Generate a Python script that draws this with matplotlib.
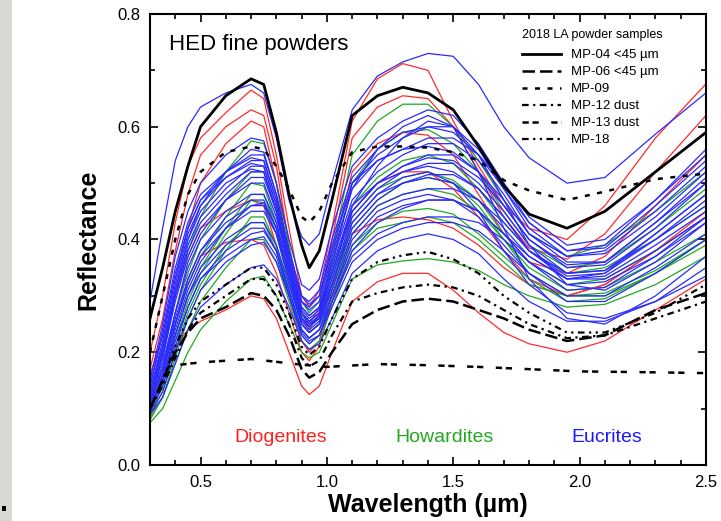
import matplotlib.pyplot as plt
from matplotlib.patches import Rectangle
from matplotlib.ticker import MultipleLocator

plt.rcParams['font.family'] = ['Liberation Sans', 'DejaVu Sans']

# wavelength grid (um) shared by the spectra
wavelength = [0.30, 0.35, 0.40, 0.45, 0.50, 0.60, 0.70, 0.75, 0.80, 0.85, 0.90, 0.93, 0.97,
              1.02, 1.10, 1.20, 1.30, 1.40, 1.50, 1.60, 1.70, 1.80, 1.95, 2.10, 2.30, 2.50]

# diogenites (red)
diogenites = [
    [0.20, 0.30, 0.43, 0.53, 0.58, 0.625, 0.665, 0.65, 0.55, 0.42, 0.30, 0.28, 0.31, 0.42, 0.61, 0.685, 0.712, 0.70, 0.61, 0.53, 0.46, 0.42, 0.40, 0.46, 0.58, 0.676],
    [0.17, 0.26, 0.38, 0.48, 0.55, 0.60, 0.63, 0.62, 0.53, 0.39, 0.27, 0.25, 0.28, 0.40, 0.58, 0.635, 0.655, 0.65, 0.60, 0.52, 0.44, 0.385, 0.365, 0.41, 0.52, 0.62],
    [0.16, 0.23, 0.33, 0.42, 0.50, 0.57, 0.61, 0.60, 0.50, 0.37, 0.26, 0.24, 0.27, 0.37, 0.52, 0.57, 0.59, 0.585, 0.55, 0.48, 0.41, 0.36, 0.34, 0.37, 0.46, 0.55],
    [0.12, 0.17, 0.25, 0.32, 0.37, 0.395, 0.40, 0.39, 0.34, 0.27, 0.20, 0.185, 0.21, 0.29, 0.41, 0.435, 0.44, 0.435, 0.42, 0.39, 0.35, 0.32, 0.30, 0.32, 0.38, 0.44],
    [0.12, 0.16, 0.21, 0.24, 0.255, 0.275, 0.30, 0.295, 0.26, 0.20, 0.14, 0.125, 0.14, 0.20, 0.29, 0.325, 0.34, 0.34, 0.31, 0.27, 0.235, 0.215, 0.20, 0.22, 0.275, 0.33],
    [0.13, 0.20, 0.30, 0.37, 0.42, 0.45, 0.47, 0.46, 0.39, 0.30, 0.22, 0.20, 0.22, 0.31, 0.45, 0.50, 0.52, 0.52, 0.49, 0.44, 0.38, 0.33, 0.30, 0.32, 0.38, 0.45],
]

# howardites (green)
howardites = [
    [0.12, 0.20, 0.30, 0.38, 0.44, 0.52, 0.575, 0.57, 0.50, 0.39, 0.29, 0.27, 0.29, 0.38, 0.55, 0.61, 0.64, 0.64, 0.60, 0.54, 0.47, 0.41, 0.37, 0.39, 0.45, 0.52],
    [0.10, 0.16, 0.25, 0.32, 0.37, 0.44, 0.50, 0.495, 0.43, 0.34, 0.26, 0.245, 0.26, 0.33, 0.46, 0.51, 0.54, 0.55, 0.535, 0.49, 0.43, 0.38, 0.34, 0.35, 0.40, 0.46],
    [0.09, 0.14, 0.22, 0.29, 0.34, 0.41, 0.47, 0.465, 0.41, 0.32, 0.25, 0.235, 0.25, 0.32, 0.44, 0.49, 0.51, 0.52, 0.505, 0.47, 0.41, 0.36, 0.32, 0.33, 0.38, 0.44],
    [0.08, 0.12, 0.19, 0.26, 0.31, 0.38, 0.44, 0.44, 0.39, 0.31, 0.24, 0.225, 0.24, 0.30, 0.41, 0.46, 0.48, 0.49, 0.48, 0.45, 0.40, 0.35, 0.31, 0.315, 0.36, 0.41],
    [0.10, 0.15, 0.23, 0.30, 0.35, 0.42, 0.48, 0.48, 0.42, 0.33, 0.25, 0.235, 0.25, 0.31, 0.42, 0.47, 0.50, 0.51, 0.50, 0.46, 0.40, 0.34, 0.30, 0.30, 0.34, 0.39],
    [0.075, 0.10, 0.15, 0.20, 0.24, 0.29, 0.33, 0.335, 0.30, 0.25, 0.20, 0.19, 0.20, 0.25, 0.33, 0.355, 0.362, 0.366, 0.36, 0.345, 0.32, 0.30, 0.28, 0.285, 0.32, 0.37],
    [0.09, 0.13, 0.20, 0.27, 0.32, 0.39, 0.43, 0.43, 0.38, 0.30, 0.23, 0.215, 0.23, 0.29, 0.39, 0.43, 0.45, 0.455, 0.445, 0.41, 0.37, 0.33, 0.29, 0.295, 0.34, 0.40],
    [0.11, 0.17, 0.27, 0.34, 0.40, 0.47, 0.52, 0.52, 0.45, 0.35, 0.265, 0.25, 0.265, 0.35, 0.50, 0.56, 0.59, 0.595, 0.57, 0.52, 0.45, 0.39, 0.35, 0.36, 0.42, 0.49],
    [0.085, 0.12, 0.18, 0.24, 0.29, 0.35, 0.40, 0.40, 0.36, 0.29, 0.22, 0.205, 0.22, 0.28, 0.38, 0.42, 0.43, 0.44, 0.43, 0.40, 0.36, 0.32, 0.30, 0.305, 0.345, 0.40],
]

# eucrites (blue)
eucrites = [
    [0.29, 0.42, 0.54, 0.60, 0.635, 0.66, 0.675, 0.66, 0.58, 0.47, 0.405, 0.39, 0.41, 0.50, 0.63, 0.69, 0.715, 0.73, 0.725, 0.675, 0.60, 0.545, 0.50, 0.51, 0.587, 0.66],
    [0.15, 0.25, 0.37, 0.45, 0.50, 0.55, 0.58, 0.575, 0.50, 0.40, 0.32, 0.31, 0.33, 0.42, 0.53, 0.58, 0.61, 0.63, 0.62, 0.57, 0.50, 0.43, 0.38, 0.39, 0.47, 0.55],
    [0.14, 0.24, 0.35, 0.43, 0.48, 0.52, 0.545, 0.54, 0.47, 0.37, 0.29, 0.28, 0.30, 0.38, 0.50, 0.55, 0.58, 0.60, 0.60, 0.56, 0.49, 0.42, 0.37, 0.38, 0.45, 0.53],
    [0.13, 0.22, 0.33, 0.42, 0.47, 0.51, 0.535, 0.53, 0.46, 0.36, 0.28, 0.265, 0.28, 0.36, 0.47, 0.52, 0.55, 0.57, 0.57, 0.54, 0.48, 0.41, 0.36, 0.36, 0.43, 0.51],
    [0.13, 0.21, 0.31, 0.40, 0.45, 0.50, 0.525, 0.52, 0.45, 0.35, 0.27, 0.255, 0.27, 0.34, 0.45, 0.50, 0.53, 0.55, 0.55, 0.52, 0.46, 0.40, 0.35, 0.355, 0.42, 0.50],
    [0.12, 0.20, 0.30, 0.38, 0.43, 0.48, 0.52, 0.52, 0.45, 0.35, 0.27, 0.255, 0.27, 0.36, 0.49, 0.56, 0.60, 0.62, 0.60, 0.52, 0.42, 0.33, 0.26, 0.25, 0.30, 0.37],
    [0.12, 0.19, 0.29, 0.37, 0.42, 0.47, 0.50, 0.50, 0.44, 0.35, 0.27, 0.25, 0.265, 0.33, 0.44, 0.49, 0.52, 0.535, 0.535, 0.50, 0.45, 0.39, 0.34, 0.345, 0.41, 0.48],
    [0.11, 0.18, 0.27, 0.35, 0.40, 0.45, 0.48, 0.48, 0.43, 0.34, 0.26, 0.245, 0.26, 0.32, 0.43, 0.48, 0.50, 0.515, 0.515, 0.49, 0.44, 0.38, 0.335, 0.34, 0.40, 0.47],
    [0.11, 0.17, 0.26, 0.33, 0.38, 0.43, 0.46, 0.46, 0.41, 0.33, 0.25, 0.235, 0.25, 0.32, 0.43, 0.48, 0.51, 0.52, 0.50, 0.45, 0.38, 0.32, 0.27, 0.26, 0.29, 0.335],
    [0.10, 0.16, 0.25, 0.32, 0.37, 0.42, 0.45, 0.45, 0.41, 0.33, 0.255, 0.24, 0.255, 0.31, 0.41, 0.46, 0.48, 0.49, 0.49, 0.47, 0.43, 0.38, 0.34, 0.345, 0.40, 0.46],
    [0.10, 0.15, 0.23, 0.30, 0.35, 0.40, 0.43, 0.43, 0.39, 0.32, 0.25, 0.235, 0.25, 0.30, 0.39, 0.44, 0.46, 0.47, 0.47, 0.45, 0.41, 0.37, 0.33, 0.335, 0.39, 0.45],
    [0.095, 0.14, 0.21, 0.28, 0.33, 0.38, 0.41, 0.415, 0.38, 0.31, 0.24, 0.225, 0.24, 0.29, 0.37, 0.41, 0.43, 0.44, 0.44, 0.43, 0.40, 0.36, 0.32, 0.325, 0.37, 0.43],
    [0.09, 0.13, 0.20, 0.26, 0.31, 0.36, 0.39, 0.395, 0.36, 0.30, 0.235, 0.22, 0.23, 0.28, 0.36, 0.40, 0.42, 0.43, 0.43, 0.415, 0.38, 0.34, 0.30, 0.30, 0.35, 0.41],
    [0.09, 0.12, 0.18, 0.24, 0.28, 0.32, 0.35, 0.355, 0.33, 0.28, 0.22, 0.205, 0.215, 0.26, 0.34, 0.38, 0.40, 0.41, 0.40, 0.375, 0.33, 0.29, 0.255, 0.255, 0.29, 0.35],
    [0.12, 0.20, 0.31, 0.40, 0.46, 0.51, 0.54, 0.54, 0.47, 0.37, 0.29, 0.275, 0.29, 0.37, 0.49, 0.54, 0.56, 0.58, 0.58, 0.55, 0.50, 0.44, 0.39, 0.40, 0.47, 0.56],
    [0.11, 0.19, 0.30, 0.39, 0.44, 0.49, 0.53, 0.53, 0.46, 0.36, 0.28, 0.265, 0.28, 0.35, 0.46, 0.50, 0.52, 0.53, 0.52, 0.49, 0.44, 0.38, 0.33, 0.33, 0.38, 0.44],
    [0.105, 0.17, 0.27, 0.36, 0.41, 0.47, 0.51, 0.51, 0.45, 0.355, 0.275, 0.26, 0.275, 0.34, 0.45, 0.50, 0.53, 0.545, 0.54, 0.51, 0.46, 0.40, 0.355, 0.36, 0.43, 0.50],
    [0.10, 0.16, 0.25, 0.33, 0.38, 0.44, 0.47, 0.47, 0.42, 0.34, 0.26, 0.25, 0.26, 0.32, 0.42, 0.47, 0.50, 0.51, 0.50, 0.47, 0.42, 0.37, 0.33, 0.34, 0.41, 0.48],
    [0.10, 0.15, 0.24, 0.31, 0.36, 0.42, 0.46, 0.465, 0.42, 0.34, 0.26, 0.245, 0.265, 0.34, 0.46, 0.53, 0.58, 0.61, 0.60, 0.55, 0.47, 0.39, 0.32, 0.31, 0.36, 0.43],
    [0.14, 0.23, 0.34, 0.42, 0.47, 0.52, 0.56, 0.555, 0.48, 0.38, 0.30, 0.285, 0.30, 0.39, 0.50, 0.54, 0.56, 0.565, 0.555, 0.52, 0.47, 0.41, 0.37, 0.375, 0.44, 0.52],
    [0.095, 0.15, 0.23, 0.30, 0.34, 0.39, 0.42, 0.42, 0.38, 0.31, 0.24, 0.225, 0.24, 0.30, 0.40, 0.45, 0.47, 0.48, 0.47, 0.44, 0.39, 0.34, 0.29, 0.29, 0.34, 0.40],
    [0.13, 0.21, 0.32, 0.41, 0.46, 0.52, 0.55, 0.55, 0.48, 0.38, 0.30, 0.29, 0.31, 0.40, 0.51, 0.56, 0.59, 0.60, 0.59, 0.55, 0.49, 0.43, 0.38, 0.385, 0.46, 0.54],
    [0.10, 0.15, 0.22, 0.28, 0.33, 0.37, 0.40, 0.405, 0.37, 0.30, 0.23, 0.215, 0.23, 0.29, 0.38, 0.43, 0.455, 0.47, 0.47, 0.45, 0.41, 0.36, 0.31, 0.315, 0.37, 0.44],
]

# 2018 LA powder samples (black)
mp04 = [0.26, 0.35, 0.45, 0.53, 0.60, 0.655, 0.685, 0.675, 0.59, 0.48, 0.39, 0.35, 0.38, 0.47, 0.62, 0.655, 0.67, 0.66, 0.63, 0.565, 0.495, 0.445, 0.42, 0.45, 0.52, 0.59]
mp06 = [0.10, 0.15, 0.20, 0.235, 0.26, 0.28, 0.305, 0.30, 0.275, 0.23, 0.17, 0.155, 0.165, 0.20, 0.25, 0.275, 0.29, 0.295, 0.29, 0.275, 0.26, 0.24, 0.22, 0.23, 0.275, 0.305]
mp09 = [0.20, 0.30, 0.40, 0.48, 0.52, 0.555, 0.565, 0.56, 0.53, 0.49, 0.44, 0.43, 0.45, 0.50, 0.555, 0.565, 0.565, 0.563, 0.555, 0.54, 0.505, 0.487, 0.47, 0.485, 0.507, 0.517]
mp12 = [0.10, 0.14, 0.19, 0.24, 0.27, 0.30, 0.33, 0.33, 0.30, 0.25, 0.19, 0.175, 0.185, 0.23, 0.29, 0.305, 0.315, 0.32, 0.315, 0.30, 0.275, 0.25, 0.225, 0.23, 0.26, 0.29]
mp18 = [0.10, 0.15, 0.21, 0.26, 0.29, 0.32, 0.35, 0.35, 0.32, 0.27, 0.21, 0.195, 0.21, 0.26, 0.33, 0.36, 0.372, 0.378, 0.365, 0.34, 0.30, 0.27, 0.235, 0.235, 0.27, 0.32]
mp13_wavelength = [0.42, 0.50, 0.60, 0.70, 0.80, 0.90, 1.00, 1.20, 1.40, 1.60, 1.80, 2.00, 2.20, 2.50]
mp13 = [0.178, 0.182, 0.185, 0.188, 0.183, 0.178, 0.174, 0.179, 0.177, 0.174, 0.17, 0.166, 0.165, 0.163]

fig = plt.figure(figsize=(7.21, 5.21), dpi=100)
fig.patches.append(Rectangle((0, 0), 12 / 721, 1, transform=fig.transFigure,
                             facecolor='#d9d9d4', edgecolor='none', zorder=0))
fig.patches.append(Rectangle((2 / 721, 10 / 521), 4 / 721, 5 / 521, transform=fig.transFigure,
                             facecolor='black', edgecolor='none', zorder=1))
ax = fig.add_axes([150 / 721, 56 / 521, 556 / 721, 451 / 521])

# colored spectra first, the black samples on top
for s in diogenites:
    ax.plot(wavelength, s, color='#ff2a2a', lw=0.9, solid_joinstyle='round')
for s in howardites:
    ax.plot(wavelength, s, color='#22a822', lw=0.9, solid_joinstyle='round')
for s in eucrites:
    ax.plot(wavelength, s, color='#2a2aff', lw=0.9, solid_joinstyle='round')

ax.plot(wavelength, mp04, color='black', lw=2.0, solid_joinstyle='round', label='MP-04 <45 µm')
ax.plot(wavelength, mp06, color='black', lw=1.8, ls=(0, (5, 2)), label='MP-06 <45 µm')
ax.plot(wavelength, mp09, color='black', lw=1.8, ls=(0, (2, 3)), label='MP-09')
ax.plot(wavelength, mp12, color='black', lw=1.6, ls=(0, (3, 2, 1, 2)), label='MP-12 dust')
ax.plot(mp13_wavelength, mp13, color='black', lw=1.8, ls=(0, (2.5, 1.5, 2.5, 5)), label='MP-13 dust')
ax.plot(wavelength, mp18, color='black', lw=1.6, ls=(0, (3, 2, 1, 2, 1, 2)), label='MP-18')

ax.set_xlim(0.3, 2.5)
ax.set_ylim(0.0, 0.8)
ax.xaxis.set_major_locator(MultipleLocator(0.5))
ax.xaxis.set_minor_locator(MultipleLocator(0.1))
ax.yaxis.set_major_locator(MultipleLocator(0.2))
ax.yaxis.set_minor_locator(MultipleLocator(0.1))
ax.tick_params(which='both', direction='in', top=True, right=True, labelsize=12, width=1.2)
ax.tick_params(which='major', length=6, pad=7)
ax.tick_params(which='minor', length=3.5)
for sp in ax.spines.values():
    sp.set_linewidth(1.5)

ax.set_xlabel('Wavelength (µm)', fontsize=18, fontweight='bold')
ax.set_ylabel('Reflectance', fontsize=18, fontweight='bold')
ax.xaxis.set_label_coords(0.5, -0.062)
ax.yaxis.set_label_coords(-0.09, 0.5)

ax.text(0.375, 0.736, 'HED fine powders', fontsize=16)
ax.text(0.818, 0.041, 'Diogenites', color='#ff2020', fontsize=14, ha='center')
ax.text(1.467, 0.041, 'Howardites', color='#22a822', fontsize=14, ha='center')
ax.text(2.108, 0.041, 'Eucrites', color='#1a1aff', fontsize=14, ha='center')

leg = ax.legend(loc='upper left', bbox_to_anchor=(0.657, 0.982), frameon=False,
                title='2018 LA powder samples', title_fontsize=9, fontsize=9.5,
                handlelength=3.0, handletextpad=0.75, labelspacing=0.36,
                borderpad=0, alignment='left')
leg._legend_box.sep = 6

fig.savefig('out.png', dpi=100)
